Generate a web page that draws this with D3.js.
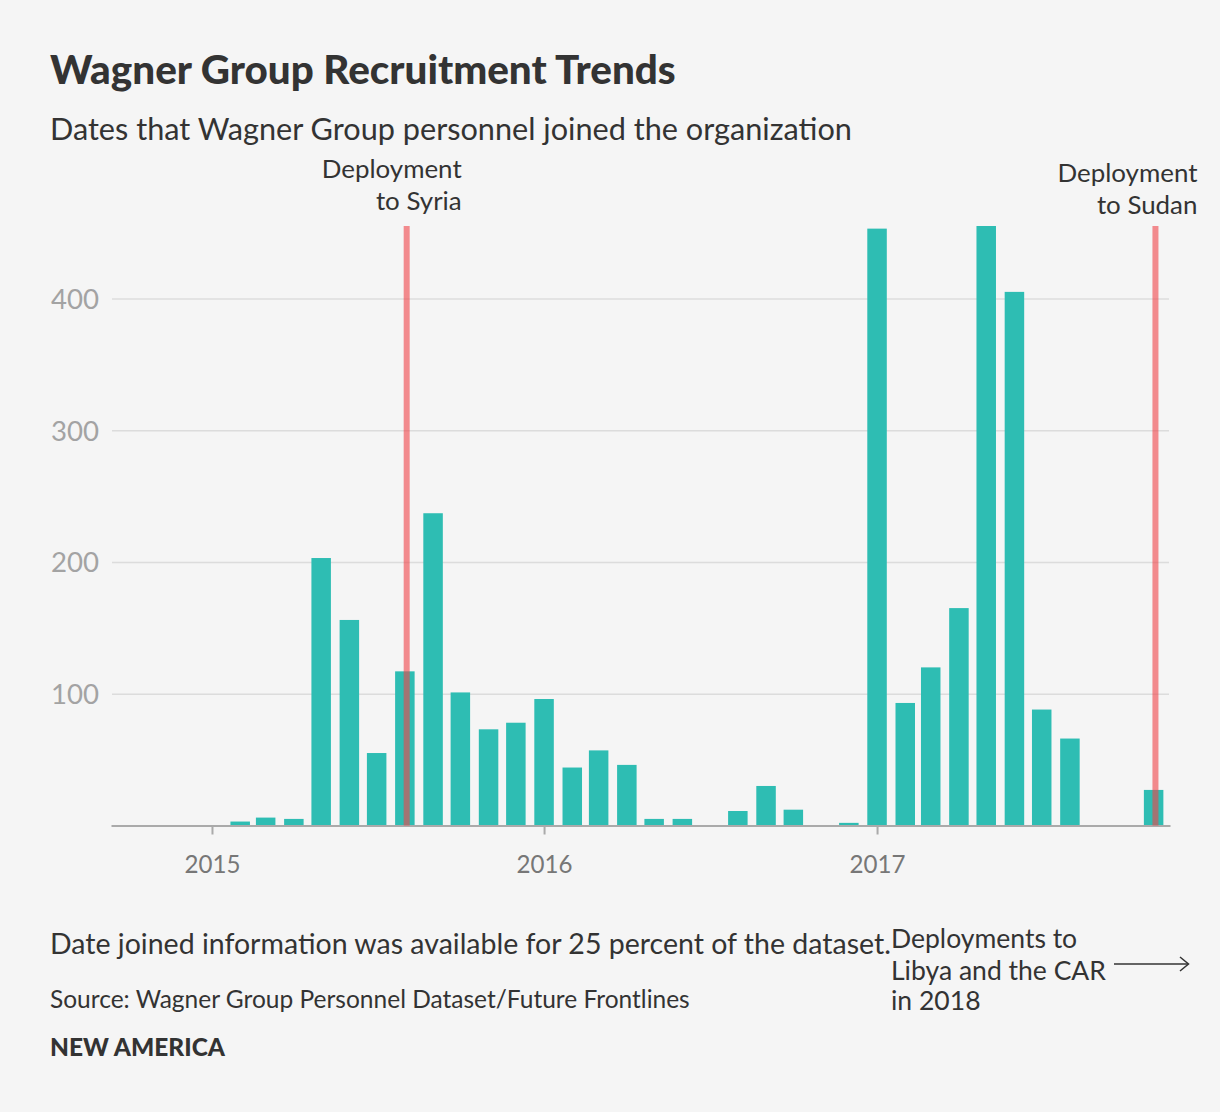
<!DOCTYPE html>
<html>
<head>
<meta charset="utf-8">
<script src="https://cdn.jsdelivr.net/npm/d3@7"></script>
<style>
  html, body { margin: 0; padding: 0; background: #f5f5f5; }
  svg { display: block; font-family: "Lato", "Noto Sans", sans-serif; }
</style>
</head>
<body>
<svg id="chart" width="1220" height="1112"></svg>
<script>
// ---------- DATA ----------
const months = [
  "2015-01","2015-02","2015-03","2015-04","2015-05","2015-06","2015-07","2015-08","2015-09","2015-10","2015-11","2015-12",
  "2016-01","2016-02","2016-03","2016-04","2016-05","2016-06","2016-07","2016-08","2016-09","2016-10","2016-11","2016-12",
  "2017-01","2017-02","2017-03","2017-04","2017-05","2017-06","2017-07","2017-08","2017-09","2017-10","2017-11"
];
const recruits = [
  0, 3, 6, 5, 203, 156, 55, 117, 237, 101, 73, 78,
  96, 44, 57, 46, 5, 5, 0, 11, 30, 12, 0, 2,
  453, 93, 120, 165, 455, 405, 88, 66, 0, 0, 27
];
const yTicks = [100, 200, 300, 400];
const xTickYears = ["2015", "2016", "2017"];
const deploymentDates = ["2015-08-03", "2017-11-03"];
const deploymentLabels = [["Deployment", "to Syria"], ["Deployment", "to Sudan"]];
const titleText = "Wagner Group Recruitment Trends";
const subtitleText = "Dates that Wagner Group personnel joined the organization";
const noteText = "Date joined information was available for 25 percent of the dataset.";
const sourceText = "Source: Wagner Group Personnel Dataset/Future Frontlines";
const brandText = "NEW AMERICA";
const laterLines = ["Deployments to", "Libya and the CAR", "in 2018"];

// ---------- SETUP ----------
const parseMonth = d3.timeParse("%Y-%m");
const parseDay = d3.timeParse("%Y-%m-%d");
const parseYear = d3.timeParse("%Y");
const data = months.map((m, i) => ({ date: parseMonth(m), value: recruits[i] }));

const svg = d3.select("#chart");
const TEXT = "#333333";

function fit(sel, w) {
  const len = sel.node().getComputedTextLength();
  const fs = parseFloat(sel.attr("font-size"));
  sel.attr("font-size", (fs * w / len).toFixed(2));
  return sel;
}

const x = d3.scaleTime()
  .domain([new Date(2014, 8, 12), new Date(2017, 10, 19)])
  .range([111, 1170]);
const yMax = d3.max(recruits);
const y = d3.scaleLinear().domain([0, yMax]).range([825.5, 226]);

// ---------- GRID + Y AXIS ----------
const yAxis = svg.append("g")
  .attr("transform", "translate(112,0)")
  .call(d3.axisLeft(y).tickValues(yTicks).tickSize(-(1169 - 112)).tickPadding(13));
yAxis.select(".domain").remove();
yAxis.selectAll(".tick line").attr("stroke", "#dcdcdc").attr("stroke-width", 1.5);
yAxis.selectAll(".tick text")
  .attr("fill", "#a3a3a3")
  .attr("font-size", 24)
  .attr("font-family", "Lato, sans-serif")
  .attr("dy", "0.36em");
yAxis.selectAll(".tick text").each(function () { fit(d3.select(this), 48); });

// ---------- BARS ----------
const barW = 19.5;
svg.append("g").selectAll("rect")
  .data(data.filter(d => d.value > 0))
  .join("rect")
  .attr("x", d => x(d.date) - barW / 2)
  .attr("width", barW)
  .attr("y", d => y(d.value))
  .attr("height", d => y(0) - y(d.value))
  .attr("fill", "#2ebdb3");

// ---------- X AXIS ----------
const xAxis = svg.append("g")
  .attr("transform", `translate(0,${y(0)})`)
  .call(d3.axisBottom(x)
    .tickValues(xTickYears.map(parseYear))
    .tickFormat(d3.timeFormat("%Y"))
    .tickSize(9).tickSizeOuter(0).tickPadding(21));
xAxis.select(".domain").attr("stroke", "#aaaaaa").attr("stroke-width", 2);
xAxis.selectAll(".tick line").attr("stroke", "#aaaaaa").attr("stroke-width", 2);
xAxis.selectAll(".tick text")
  .attr("fill", "#777777")
  .attr("font-size", 23)
  .attr("font-family", "Lato, sans-serif");
xAxis.selectAll(".tick text").each(function () { fit(d3.select(this), 56); });

// ---------- DEPLOYMENT LINES ----------
const depG = svg.append("g");
const labelOffsets = [{ dx: 55, y0: 178 }, { dx: 42, y0: 182 }];
deploymentDates.forEach((ds, i) => {
  const xd = x(parseDay(ds));
  depG.append("line")
    .attr("x1", xd).attr("x2", xd)
    .attr("y1", y(yMax)).attr("y2", y(0))
    .attr("stroke", "rgb(240,66,72)")
    .attr("stroke-opacity", 0.6)
    .attr("stroke-width", 6);
  deploymentLabels[i].forEach((t, j) => {
    const tx = depG.append("text")
      .attr("x", xd + labelOffsets[i].dx)
      .attr("y", labelOffsets[i].y0 + j * 32)
      .attr("text-anchor", "end")
      .attr("fill", TEXT)
      .attr("font-size", 23)
      .text(t);
    if (j === 0) fit(tx, 140);
    else tx.attr("font-size", depG.select("text").attr("font-size"));
  });
});

// ---------- TITLES ----------
fit(svg.append("text").attr("x", 50).attr("y", 84)
  .attr("font-size", 34).attr("font-weight", 900).attr("fill", TEXT)
  .text(titleText), 626);
fit(svg.append("text").attr("x", 50).attr("y", 140)
  .attr("font-size", 26).attr("fill", TEXT)
  .text(subtitleText), 802);

// ---------- FOOTER ----------
fit(svg.append("text").attr("x", 50).attr("y", 954)
  .attr("font-size", 24).attr("fill", TEXT)
  .text(noteText), 841);
fit(svg.append("text").attr("x", 50).attr("y", 1008)
  .attr("font-size", 20).attr("fill", TEXT)
  .text(sourceText), 640);
fit(svg.append("text").attr("x", 50).attr("y", 1056)
  .attr("font-size", 20).attr("font-weight", 900).attr("fill", TEXT)
  .text(brandText), 175);

const laterG = svg.append("g");
const lt = laterG.selectAll("text").data(laterLines).join("text")
  .attr("x", 891)
  .attr("y", (d, i) => [948, 980, 1010][i])
  .attr("fill", TEXT)
  .attr("font-size", 22)
  .text(d => d);
const ref = d3.select(lt.nodes()[1]);
fit(ref, 215);
lt.attr("font-size", ref.attr("font-size"));

// arrow
laterG.append("line").attr("x1", 1114).attr("x2", 1188).attr("y1", 964).attr("y2", 964)
  .attr("stroke", TEXT).attr("stroke-width", 1.5);
laterG.append("path").attr("d", "M1180,957 L1188.5,964 L1180,971")
  .attr("fill", "none").attr("stroke", TEXT).attr("stroke-width", 1.5);
</script>
</body>
</html>
